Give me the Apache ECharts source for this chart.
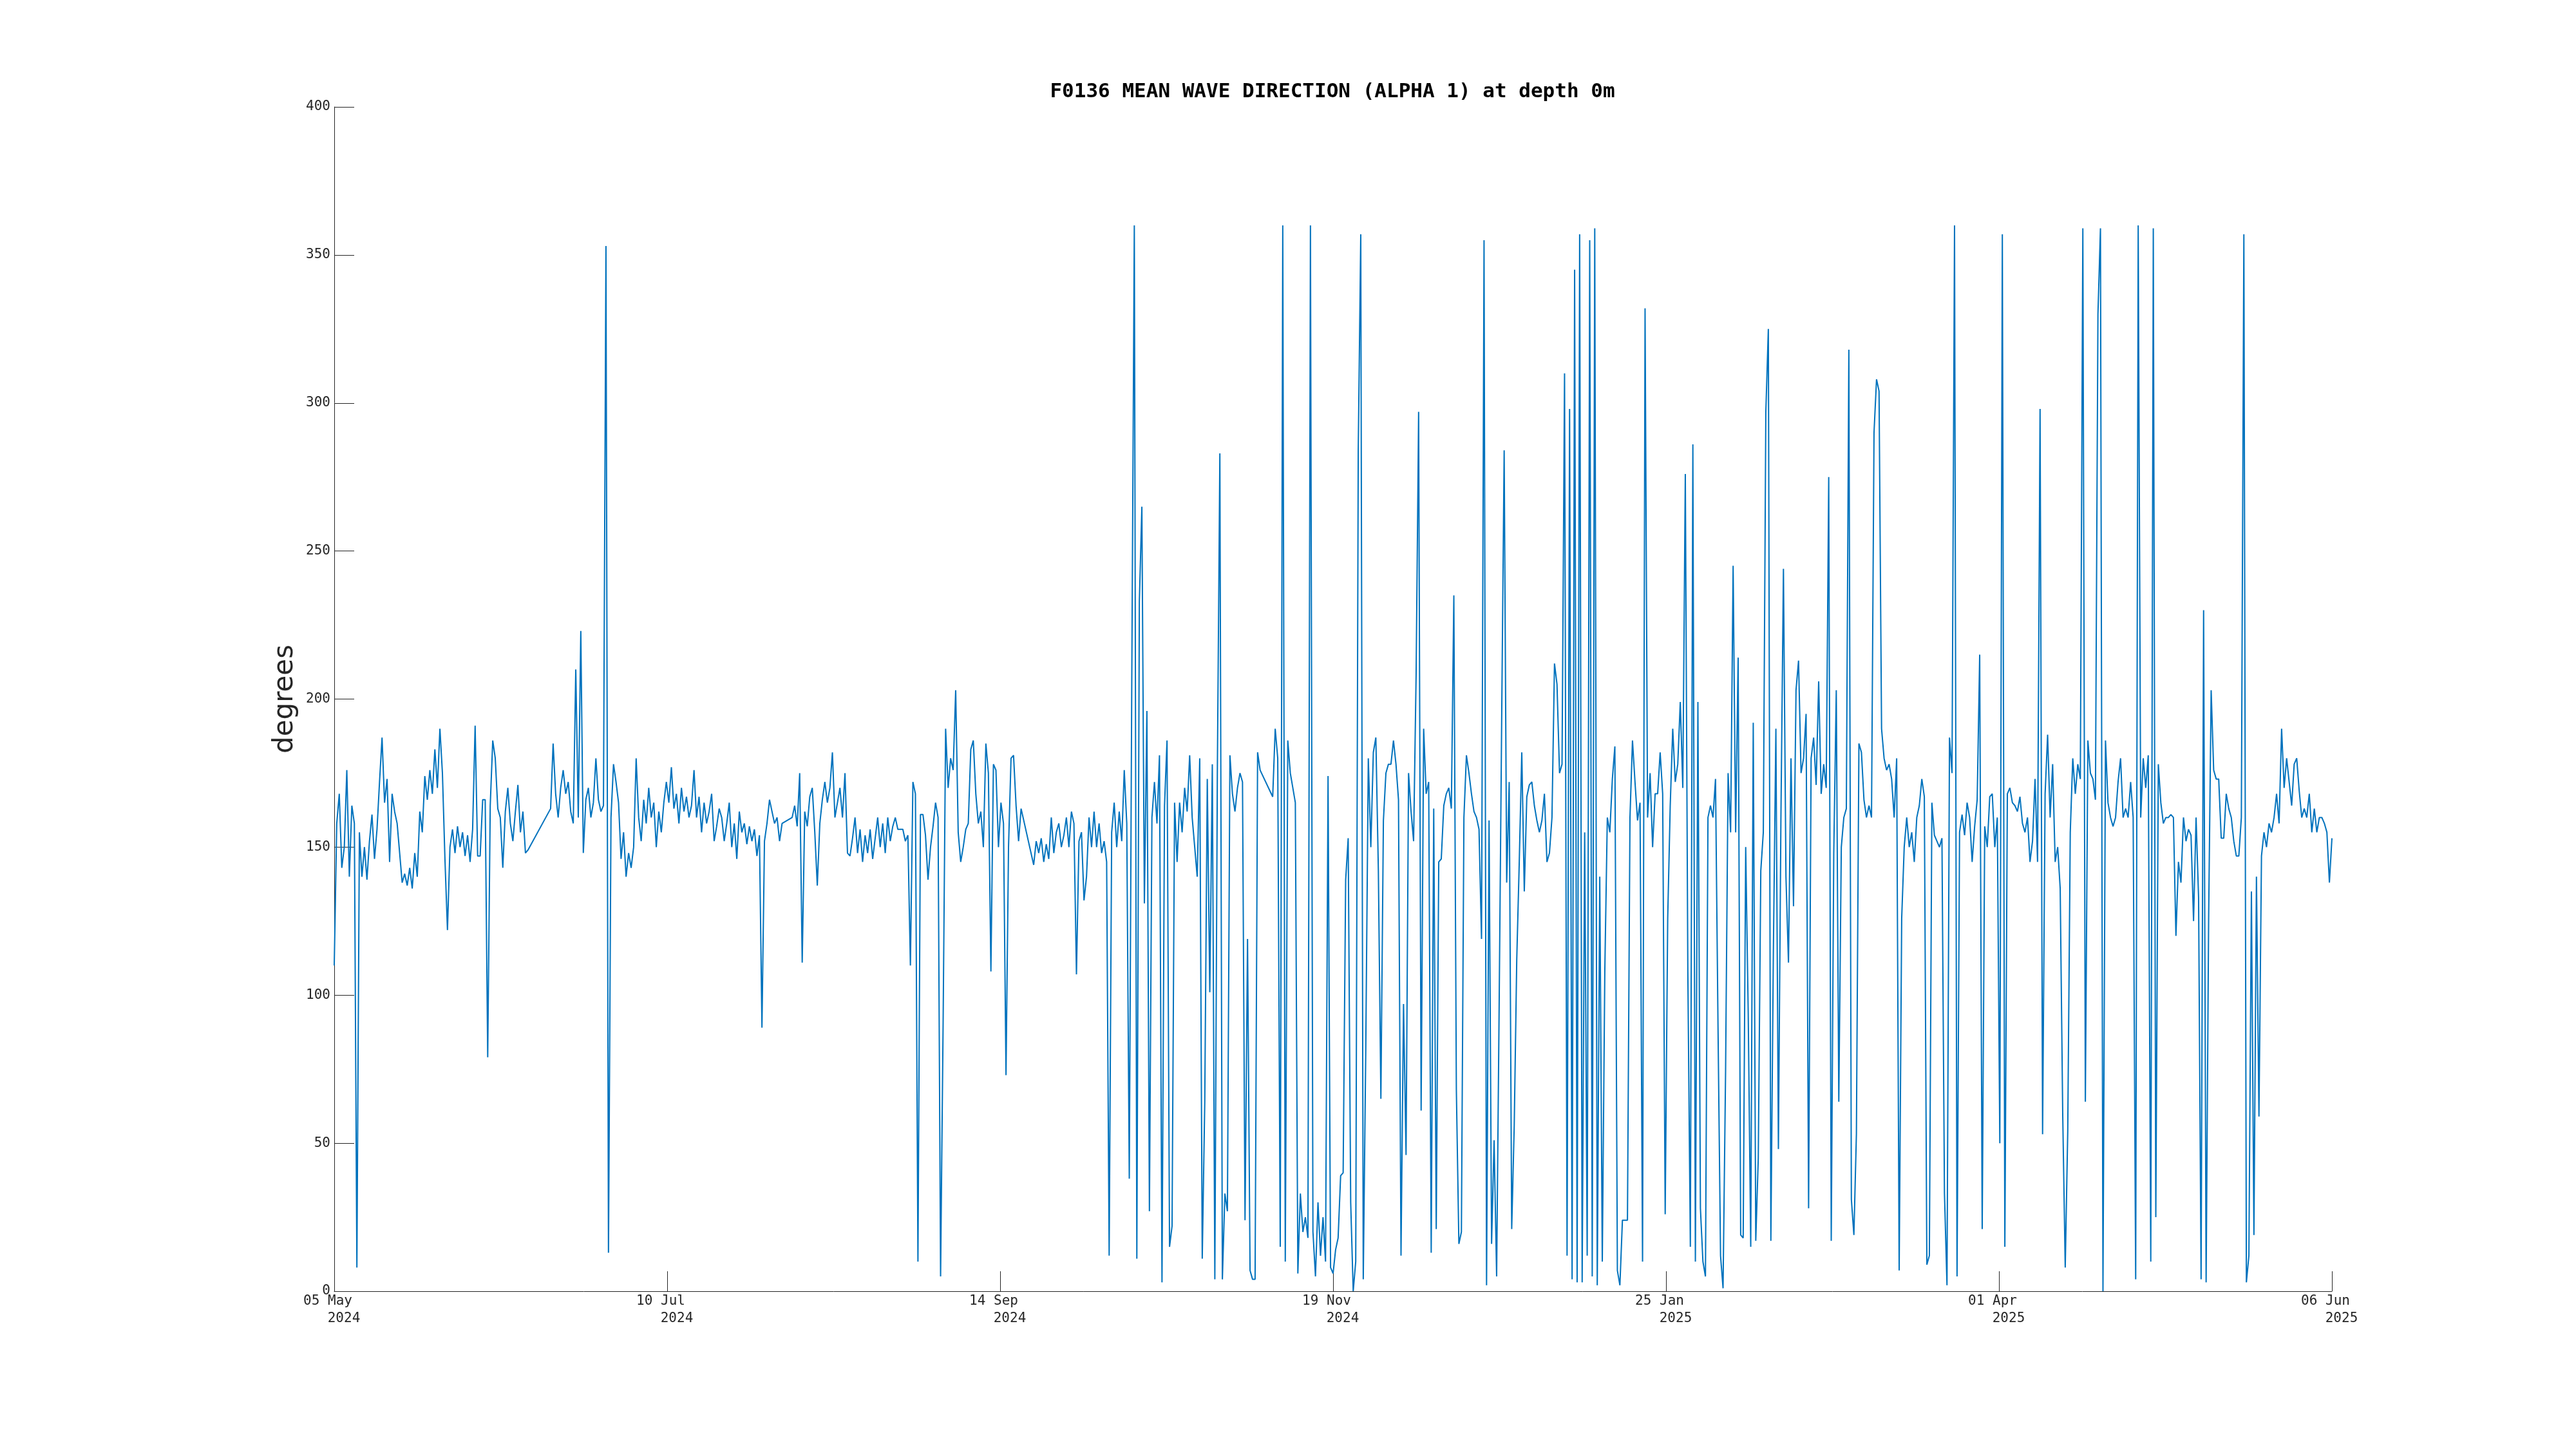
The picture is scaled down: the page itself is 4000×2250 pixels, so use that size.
<!DOCTYPE html>
<html>
<head>
<meta charset="utf-8">
<script src="https://cdn.jsdelivr.net/npm/echarts@6/dist/echarts.min.js"></script>
<style>
  html, body { margin: 0; padding: 0; background: #ffffff; }
  #chart { width: 4000px; height: 2250px; }
</style>
</head>
<body>
<div id="chart"></div>
<script>
// ---- data: mean wave direction (degrees), one value every 12 hours from 05 May 2024 00:00 ----
// null = no data (MATLAB draws a straight line across such gaps)
const stepHours = 12;
const segMayJul = [110,158,168,143,150,176,140,164,158,8,
  155,140,150,139,152,161,146,156,172,187,
  165,173,145,168,162,158,148,138,141,137,
  143,136,148,140,162,155,174,166,176,168,
  183,170,190,175,146,122,150,156,148,157,
  150,155,147,154,145,156,191,147,147,166,
  166,79,164,186,180,163,160,143,162,170,
  158,152,162,171,155,162,148,149,null,null,
  null,null,null,null,null,null,163,185,168,160,
  170,176,168,172,162,158,210,160,223,148,
  166,170,160,165,180,166,162,164,353,13,
  160,178,172,165,146,155,140,148,143,150,
  180,160,152,166,158,170,160,165,150,162,
  155,165,172];
const segJulSep = [165,177,163,168,158,170,162,167,160,164,
  176,160,167,155,165,158,162,168,152,157,
  163,160,152,158,165,150,158,146,162,155,
  158,151,157,152,156,147,154,89,152,158,
  166,162,158,160,152,158,null,null,null,160,
  164,157,175,111,162,157,167,170,155,137,
  158,166,172,165,170,182,160,165,170,160,
  175,148,147,153,160,148,156,145,154,148,
  156,146,153,160,150,158,148,160,152,157,
  160,156,156,156,152,154,110,172,168,10,
  161,161,154,139,150,157,165,160,5,90,
  190,170,180,176,203,155,145,150,156,158,
  183,186,168,158,162,150,185,175,108,178,
  176];
const segSepNov = [150,165,158,73,150,180,181,164,152,163,
  null,null,null,null,144,152,148,153,145,151,
  146,160,148,155,158,150,154,160,150,162,
  158,107,152,155,132,140,160,150,162,150,
  158,148,152,145,12,155,165,150,162,152,
  176,158,38,208,360,11,233,265,131,196,
  27,160,172,158,181,3,164,186,15,22,
  165,145,165,155,170,162,181,160,150,140,
  180,11,64,173,101,178,4,175,283,4,
  33,27,181,168,162,170,175,172,24,119,
  7,4,4,182,176,null,null,null,null,167,
  190,180,15,360,10,186,175,170,165,6,
  33,20,25,18,360,20,5,30,12,25,
  10,174];
const segNovJan = [8,6,14,18,39,40,139,153,30,0,
  10,284,357,4,82,180,150,182,187,142,
  65,159,175,178,178,186,178,166,12,97,
  46,175,162,152,208,297,61,190,168,172,
  13,163,21,145,146,164,168,170,163,235,
  68,16,20,160,181,175,168,162,160,156,
  119,355,2,159,16,51,5,96,192,284,
  138,172,21,56,112,145,182,135,167,171,
  172,164,159,155,159,168,145,148,160,212,
  205,175,178,310,12,298,4,345,3,357,
  3,155,12,355,5,359,2,140,10,108,
  160,155,173,184,7,2,24,24,24,160,
  186,172,159,165,10,332,160,175,150,168,
  168,182];
const segJanApr = [168,26,126,164,190,172,178,199,170,276,
  108,15,286,10,199,28,10,5,160,164,
  160,173,89,12,1,74,175,155,245,155,
  214,19,18,150,94,15,192,17,45,142,
  155,297,325,17,115,190,48,160,244,140,
  111,180,130,203,213,175,180,195,28,180,
  187,171,206,168,178,170,275,17,148,203,
  64,150,160,163,318,31,19,53,185,182,
  166,160,164,160,290,308,304,190,180,176,
  178,173,160,180,7,126,150,160,150,155,
  145,160,164,173,167,9,12,165,154,152,
  150,153,33,2,187,175,360,5,155,161,
  154,165,160,145,157,166,215,21,157,150,
  167];
const segAprJun = [168,150,160,50,357,15,168,170,165,164,
  162,167,158,155,160,145,152,173,145,298,
  53,168,188,160,178,145,150,136,60,8,
  54,155,180,168,178,173,359,64,186,175,
  173,166,330,359,0,186,165,160,157,160,
  172,180,160,163,160,172,160,4,360,160,
  180,170,181,10,359,25,178,165,158,160,
  160,161,160,120,145,138,160,152,156,154,
  125,160,133,4,230,3,126,203,176,173,
  173,153,153,168,163,160,152,147,147,160,
  357,3,12,135,19,140,59,147,155,150,
  158,155,160,168,158,190,170,180,172,164,
  178,180,169,160,163,160,168,155,163,155,
  160,160,158,155,138,153];

// x axis: hours since 05 May 2024 00:00, 397 days shown, 6 equal tick intervals
const axisHours = 9528;
const tickStepHours = 1588;
const tickLabels = [
  ['05 May', '2024'], ['10 Jul', '2024'], ['14 Sep', '2024'], ['19 Nov', '2024'],
  ['25 Jan', '2025'], ['01 Apr', '2025'], ['06 Jun', '2025']
];
const yTicks = { min: 0, max: 400, step: 50 };

const allValues = [].concat(segMayJul, segJulSep, segSepNov, segNovJan, segJanApr, segAprJun);
const seriesData = allValues.map((v, i) => [i * stepHours, v === null ? '-' : v]);

const ink = '#262626';
const chart = echarts.init(document.getElementById('chart'), null, { renderer: 'canvas', width: 4000, height: 2250 });
chart.setOption({
  animation: false,
  backgroundColor: '#ffffff',
  grid: { left: 519, right: 379, top: 166, bottom: 245, containLabel: false, outerBoundsMode: 'none' },
  graphic: [{
    type: 'text',
    x: 2069, y: 143,
    style: {
      text: 'F0136 MEAN WAVE DIRECTION (ALPHA 1) at depth 0m',
      font: 'bold 31px "DejaVu Sans Mono"',
      fill: '#000000',
      align: 'center',
      verticalAlign: 'middle'
    }
  }],
  xAxis: {
    type: 'value',
    min: 0, max: axisHours, interval: tickStepHours,
    splitLine: { show: false },
    axisLine: { show: true, onZero: false, lineStyle: { color: ink, width: 1 } },
    axisTick: { show: true, inside: true, length: 31, lineStyle: { color: ink, width: 1 } },
    axisLabel: {
      show: true, margin: 2, showMinLabel: true, showMaxLabel: true,
      color: ink, fontFamily: 'DejaVu Sans Mono', fontSize: 21, lineHeight: 27,
      formatter: function (v) {
        const lab = tickLabels[Math.round(v / tickStepHours)];
        return lab ? '{a|' + lab[0] + '}\n{b|' + lab[1] + '}' : '';
      },
      rich: {
        a: { fontFamily: 'DejaVu Sans Mono', fontSize: 21, lineHeight: 27, color: ink, align: 'center', padding: [0, 20, 0, 0] },
        b: { fontFamily: 'DejaVu Sans Mono', fontSize: 21, lineHeight: 27, color: ink, align: 'center', padding: [0, 0, 0, 30] }
      }
    }
  },
  yAxis: {
    type: 'value',
    min: yTicks.min, max: yTicks.max, interval: yTicks.step,
    name: 'degrees', nameLocation: 'middle', nameRotate: 90, nameGap: 44,
    nameTextStyle: { fontFamily: 'DejaVu Sans', fontSize: 42, color: ink },
    splitLine: { show: false },
    axisLine: { show: true, lineStyle: { color: ink, width: 1 } },
    axisTick: { show: true, inside: true, length: 31, lineStyle: { color: ink, width: 1 } },
    axisLabel: { show: true, margin: 6, color: ink, fontFamily: 'DejaVu Sans Mono', fontSize: 21 }
  },
  series: [{
    type: 'line',
    data: seriesData,
    showSymbol: false,
    symbol: 'none',
    connectNulls: true,
    lineStyle: { color: '#0072BD', width: 2 },
    itemStyle: { color: '#0072BD' },
    emphasis: { disabled: true }
  }]
});
</script>
</body>
</html>
